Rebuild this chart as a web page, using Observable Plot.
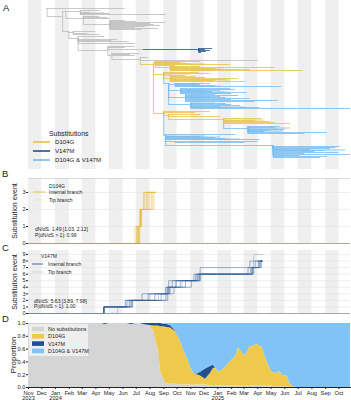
<!DOCTYPE html>
<html><head><meta charset="utf-8">
<script src="https://cdn.jsdelivr.net/npm/d3@7"></script>
<script src="https://cdn.jsdelivr.net/npm/@observablehq/plot@0.6"></script>
<style>
body{margin:0;background:#fff;}
#wrap{position:relative;width:351px;height:400px;overflow:hidden;background:#fff;}
#wrap > svg{display:block;}
</style></head><body><div id="wrap"></div>
<script>
// ---------------- DATA ----------------
const xDomain = ["2023-11-01", "2025-10-27"];
const monthTicks = ["2023-11-01","2023-12-01","2024-01-01","2024-02-01","2024-03-01","2024-04-01","2024-05-01","2024-06-01","2024-07-01","2024-08-01","2024-09-01","2024-10-01","2024-11-01","2024-12-01","2025-01-01","2025-02-01","2025-03-01","2025-04-01","2025-05-01","2025-06-01","2025-07-01","2025-08-01","2025-09-01","2025-10-01"];
const monthLabels = ["Nov\n2023","Dec","Jan\n2024","Feb","Mar","Apr","May","Jun","Jul","Aug","Sep","Oct","Nov","Dec","Jan\n2025","Feb","Mar","Apr","May","Jun","Jul","Aug","Sep","Oct"];
const stripeStart = ["2023-11-01","2024-01-01","2024-03-01","2024-05-01","2024-07-01","2024-09-01","2024-11-01","2025-01-01","2025-03-01","2025-05-01","2025-07-01","2025-09-01"];
const stripeEnd   = ["2023-12-01","2024-02-01","2024-04-01","2024-06-01","2024-08-01","2024-10-01","2024-12-01","2025-02-01","2025-04-01","2025-06-01","2025-08-01","2025-10-01"];

const substitutionLabels = ["D104G", "V147M", "D104G & V147M"];
const proportionLabels = ["No substitutions", "D104G", "V147M", "D104G & V147M"];
const branchLabels = ["Internal branch", "Tip branch"];
const statsD104G = ["dN/dS: 1.49 [1.03, 2.12]", "P(dN/dS > 1): 0.99"];
const statsV147M = ["dN/dS: 5.63 [3.89, 7.98]", "P(dN/dS > 1): 1.00"];

// Phylogeny: [id, parent, date, row, substitution state]
const treeNodes = [
["r","","2023-12-13",12,"none"],
["t1","r","2024-06-06",8,"none"],
["a","r","2024-01-17",16,"none"],
["U","a","2024-01-24",11,"none"],
["U1","U","2024-02-26",11,"none"],
["u1","U1","2024-04-10",10,"none"],
["u2","U1","2024-03-19",12,"none"],
["u3","U1","2024-09-07",14,"none"],
["u4","U1","2024-05-03",13,"none"],
["u14","U1","2024-04-21",12.5,"none"],
["U2","U","2024-03-04",18,"none"],
["u5","U2","2024-04-10",16,"none"],
["u6","U2","2024-05-03",18,"none"],
["u15","U2","2024-04-28",17,"none"],
["U3","U2","2024-05-03",24,"none"],
["u7","U3","2024-09-05",22,"none"],
["u8","U3","2024-08-02",23,"none"],
["u9","U3","2024-08-25",25,"none"],
["u10","U3","2024-06-29",27,"none"],
["u11","U3","2024-08-20",28,"none"],
["u12","U3","2024-06-06",20,"none"],
["u13","U3","2024-07-21",26,"none"],
["u16","U3","2024-07-01",21,"none"],
["u17","U3","2024-08-10",24,"none"],
["u18","U3","2024-07-14",29,"none"],
["L","a","2024-01-31",31,"none"],
["L1","L","2024-02-10",32,"none"],
["l1","L1","2024-04-01",31,"none"],
["l2","L1","2024-03-14",33,"none"],
["l3","L1","2024-04-10",34,"none"],
["L2","L","2024-02-21",38,"none"],
["l4","L2","2024-06-29",43,"none"],
["l5","L2","2024-04-21",36,"none"],
["l6","L2","2024-05-20",39,"none"],
["l7","L2","2024-06-15",41,"none"],
["l14","L2","2024-05-07",40,"none"],
["L3","L2","2024-04-28",50,"none"],
["M0","L3","2024-07-17",49,"none"],
["M1","M0","2024-11-19",49,"V147M"],
["m1","M1","2024-12-20",48,"V147M"],
["m2","M1","2024-12-04",49,"V147M"],
["m3","M1","2024-12-15",50,"V147M"],
["m4","M1","2024-12-06",51,"V147M"],
["m5","M1","2024-11-25",52,"V147M"],
["l8","L3","2024-06-29",46,"none"],
["l9","L3","2024-06-06",47,"none"],
["L4","L3","2024-05-07",55,"none"],
["l10","L4","2024-07-10",53,"none"],
["l11","L4","2024-06-29",55,"none"],
["l15","L4","2024-06-18",54,"none"],
["L5","L4","2024-07-10",59,"none"],
["l12","L5","2025-04-02",60,"none"],
["l13","L5","2024-07-28",57,"none"],
["Y0","L5","2024-08-09",64,"D104G"],
["Y1","Y0","2024-08-13",62,"D104G"],
["y1","Y1","2024-11-23",61,"D104G"],
["y2","Y1","2024-10-09",62,"D104G"],
["y3","Y1","2024-11-01",63,"D104G"],
["y4","Y1","2025-01-30",64,"D104G"],
["y5","Y1","2024-09-27",65,"D104G"],
["y27","Y1","2024-10-20",61.5,"D104G"],
["y28","Y1","2024-12-04",63.5,"D104G"],
["Y1a","Y1","2024-09-16",67,"D104G"],
["y6","Y1a","2025-05-10",67,"D104G"],
["y7","Y1a","2025-07-12",70,"D104G"],
["y8","Y1a","2024-12-27",68,"D104G"],
["y9","Y1a","2024-11-23",66,"D104G"],
["y10","Y1a","2025-03-14",69,"D104G"],
["y29","Y1a","2024-10-26",66.5,"D104G"],
["y30","Y1a","2025-01-14",68.5,"D104G"],
["y31","Y1a","2024-12-15",69.5,"D104G"],
["Y2","Y0","2024-09-01",74,"D104G"],
["y11","Y2","2024-11-19",72,"D104G"],
["y12","Y2","2024-12-15",73,"D104G"],
["y13","Y2","2024-10-20",75,"D104G"],
["y34","Y2","2024-11-01",73.5,"D104G"],
["Y2a","Y2","2024-09-16",78,"D104G"],
["y14","Y2a","2025-02-17",78,"D104G"],
["y15","Y2a","2025-03-03",81,"D104G"],
["y16","Y2a","2025-01-19",79,"D104G"],
["y17","Y2a","2024-11-12",76,"D104G"],
["y18","Y2a","2024-12-27",80,"D104G"],
["y32","Y2a","2024-12-04",77,"D104G"],
["y33","Y2a","2025-01-30",79.5,"D104G"],
["B1","Y2","2024-09-12",83,"both"],
["B1a","B1","2024-09-27",84,"both"],
["b1","B1a","2024-12-15",83,"both"],
["b2","B1a","2024-11-23",84,"both"],
["b3","B1a","2025-05-25",86,"both"],
["b4","B1a","2024-12-27",85,"both"],
["b42","B1a","2025-01-07",85.5,"both"],
["b43","B1a","2024-11-12",83.5,"both"],
["B1b","B1","2024-10-09",90,"both"],
["b5","B1b","2025-01-30",88,"both"],
["b6","B1b","2025-03-08",92,"both"],
["b7","B1b","2025-01-07",90,"both"],
["b8","B1b","2024-12-20",91,"both"],
["b9","B1b","2025-02-10",89,"both"],
["b44","B1b","2024-12-04",89.5,"both"],
["b45","B1b","2025-01-19",91.5,"both"],
["b46","B1b","2025-02-01",93,"both"],
["B1c","B1","2024-10-20",97,"both"],
["b10","B1c","2025-02-17",95,"both"],
["b11","B1c","2025-01-19",97,"both"],
["b12","B1c","2025-03-14",98,"both"],
["b13","B1c","2025-05-17",100,"both"],
["b14","B1c","2024-12-27",94,"both"],
["b47","B1c","2025-01-07",96,"both"],
["b48","B1c","2025-02-01",99,"both"],
["b49","B1c","2024-12-15",96.5,"both"],
["b50","B1c","2025-03-26",101,"both"],
["B1d","B1","2024-11-01",104,"both"],
["b15","B1d","2025-01-19",103,"both"],
["b16","B1d","2025-02-21",105,"both"],
["b17","B1d","2025-02-01",104,"both"],
["b18","B1d","2025-10-27",108,"both"],
["b19","B1d","2025-04-06",107,"both"],
["b51","B1d","2024-12-27",102.5,"both"],
["b52","B1d","2025-01-07",106,"both"],
["b53","B1d","2025-03-03",106.5,"both"],
["Y3","Y0","2024-09-01",113,"D104G"],
["y19","Y3","2024-12-15",111,"D104G"],
["y20","Y3","2024-11-12",112,"D104G"],
["Y3a","Y3","2024-09-12",115,"D104G"],
["y21","Y3a","2024-11-23",114,"D104G"],
["y22","Y3a","2025-01-07",116,"D104G"],
["Y4","Y3a","2025-01-14",119,"D104G"],
["y23","Y4","2025-04-11",118,"D104G"],
["y24","Y4","2025-06-13",123,"D104G"],
["y25","Y4","2025-04-29",121,"D104G"],
["y26","Y4","2025-03-26",120,"D104G"],
["y35","Y4","2025-05-10",122,"D104G"],
["y36","Y4","2025-04-17",119.5,"D104G"],
["B3","Y4","2025-03-10",128,"both"],
["b20","B3","2025-05-21",126,"both"],
["b21","B3","2025-05-10",127,"both"],
["b22","B3","2025-06-01",129,"both"],
["b23","B3","2025-04-29",130,"both"],
["b24","B3","2025-09-05",132,"both"],
["b25","B3","2025-04-17",131,"both"],
["b54","B3","2025-05-17",128.5,"both"],
["b55","B3","2025-06-13",127.5,"both"],
["b56","B3","2025-05-28",130.5,"both"],
["b57","B3","2025-07-16",133,"both"],
["B2","Y3","2024-09-05",135,"both"],
["b26","B2","2025-02-10",134,"both"],
["b27","B2","2024-11-23",136,"both"],
["b28","B2","2024-12-27",137,"both"],
["b29","B2","2025-04-06",139,"both"],
["b30","B2","2025-01-19",138,"both"],
["b58","B2","2024-12-04",135.5,"both"],
["b59","B2","2025-01-07",136.5,"both"],
["b60","B2","2025-02-21",138.5,"both"],
["B2b","B2","2024-09-27",141,"both"],
["b31","B2b","2025-04-02",141,"both"],
["b32","B2b","2025-03-03",142,"both"],
["B2a","B2","2025-05-06",145,"both"],
["b33","B2a","2025-10-04",146,"both"],
["b34","B2a","2025-09-12",148,"both"],
["b35","B2a","2025-07-28",149,"both"],
["b36","B2a","2025-08-31",150,"both"],
["b37","B2a","2025-10-01",152,"both"],
["b38","B2a","2025-07-16",153,"both"],
["b39","B2a","2025-10-27",154,"both"],
["b40","B2a","2025-07-05",155,"both"],
["b41","B2a","2025-08-20",157,"both"],
["b61","B2a","2025-09-24",147,"both"],
["b62","B2a","2025-08-08",151,"both"],
["b63","B2a","2025-09-05",156,"both"],
["b64","B2a","2025-10-16",149.5,"both"]
];

// Panel B: D104G substitution event sample paths (dates of each successive event)
const bInternalPaths = [
 ["2024-07-01","2024-07-09","2024-07-17"],
 ["2024-07-03","2024-07-10","2024-07-20"],
 ["2024-07-04","2024-07-10","2024-07-24"],
 ["2024-07-05","2024-07-11","2024-07-28"],
 ["2024-07-06","2024-07-11","2024-08-01"],
 ["2024-07-07","2024-07-12","2024-08-04"],
 ["2024-07-08","2024-07-12","2024-08-07"],
 ["2024-07-09","2024-07-13","2024-08-10"]
];
const bTipPaths = [
 ["2024-06-28","2024-07-10","2024-07-18"],
 ["2024-07-02","2024-07-11","2024-07-26"]
];
const bPathEnd = "2024-08-13";
const bTicks = [0, 1, 2, 3];
const bYMax = 3.82;

// Panel C: V147M substitution event sample paths
const cInternalPaths = [
 ["2024-04-19","2024-06-08","2024-07-14","2024-09-08","2024-09-12","2024-11-08","2024-11-22","2025-03-14"],
 ["2024-04-19","2024-06-12","2024-07-28","2024-09-10","2024-09-20","2024-11-12","2025-03-10","2025-03-26"],
 ["2024-04-19","2024-06-16","2024-08-12","2024-09-12","2024-09-28","2024-11-16","2025-03-16","2025-04-02"],
 ["2024-04-19","2024-06-20","2024-08-26","2024-09-05","2024-10-08","2024-11-19","2025-03-19","2025-04-05"],
 ["2024-04-19","2024-06-23","2024-09-06","2024-09-14","2024-10-20","2024-11-21","2025-03-21","2025-04-07"],
 ["2024-04-19","2024-06-06","2024-09-10","2024-09-24","2024-11-02","2024-11-23","2025-03-23","2025-04-09"]
];
const cTipPaths = [
 ["2024-04-19","2024-06-18","2024-08-01","2024-09-11","2024-09-30","2024-11-14","2025-03-20","2025-03-22","2025-03-23"],
 ["2024-05-20","2024-06-22","2024-08-20","2024-09-16","2024-10-12","2024-11-20","2025-03-18","2025-04-03"]
];
const cPathEnd = "2025-04-11";
const cTicks = [0,1,2,3,4,5,6,7,8,9];
const cYMax = 9.6;

// Panel D: proportions
const dDates = ["2023-11-01","2024-04-14","2024-04-22","2024-05-01","2024-06-10","2024-06-20","2024-07-01","2024-07-10","2024-07-20","2024-08-01","2024-08-09","2024-08-20","2024-08-25","2024-09-01","2024-09-06","2024-09-16","2024-09-27","2024-10-09","2024-10-16","2024-10-26","2024-11-01","2024-11-08","2024-11-15","2024-11-23","2024-12-04","2024-12-15","2024-12-22","2024-12-27","2025-01-03","2025-01-14","2025-01-30","2025-02-10","2025-02-17","2025-02-26","2025-03-03","2025-03-14","2025-03-30","2025-04-11","2025-04-22","2025-05-03","2025-05-10","2025-05-21","2025-05-28","2025-06-06","2025-06-13","2025-06-20","2025-06-27","2025-10-27"];
const dNone  = [1,1,0.985,1,1,0.985,1,1,0.98,0.96,0.89,0.57,0.25,0.12,0.06,0.05,0.05,0.04,0.04,0.04,0.04,0.04,0.04,0.04,0.04,0.03,0.03,0.03,0.03,0.03,0.02,0.02,0.02,0.02,0.02,0.02,0.03,0.03,0.02,0.02,0.01,0.01,0.01,0.01,0,0,0,0];
const dD104G = [0,0,0,0,0,0,0,0,0,0.01,0.07,0.39,0.70,0.83,0.88,0.88,0.83,0.68,0.54,0.38,0.26,0.18,0.16,0.14,0.09,0.19,0.27,0.27,0.21,0.26,0.39,0.47,0.60,0.51,0.47,0.61,0.64,0.60,0.38,0.22,0.21,0.24,0.17,0.17,0.05,0.01,0,0];
const dV147M = [0,0,0.015,0,0,0.015,0,0,0.02,0.03,0.04,0.04,0.05,0.04,0.05,0.04,0.01,0,0,0,0,0,0.01,0.06,0.16,0.11,0.05,0,0,0,0,0,0,0,0,0,0,0,0,0,0,0,0,0,0,0,0,0];
const dBoth  = [0,0,0,0,0,0,0,0,0,0,0,0,0,0.01,0.01,0.03,0.11,0.28,0.42,0.58,0.70,0.78,0.79,0.76,0.71,0.67,0.65,0.70,0.76,0.71,0.59,0.51,0.38,0.47,0.51,0.37,0.33,0.37,0.60,0.76,0.78,0.75,0.82,0.82,0.95,0.99,1,1];

// ---------------- STYLE ----------------
const FONT = '"Liberation Sans", Arial, Helvetica, sans-serif';
const treeColor = {none:"#bababa", D104G:"#e9c146", V147M:"#22508c", both:"#73bcf1"};
const areaColor = {"No substitutions":"#d5d5d5", "D104G":"#efc94c", "V147M":"#22508c", "D104G & V147M":"#80c4f7"};
const legendColor = ["#e9c146", "#22508c", "#73bcf1"];
const stripeFill = "#efefef";

const X = {type:"utc", domain: xDomain.map(d => new Date(d))};
const stripes = stripeStart.map((s,i) => ({s: new Date(s), e: new Date(stripeEnd[i])}));
const stripeMark = () => Plot.rect(stripes, {x1:"s", x2:"e", fill: stripeFill});
const common = {width:351, marginLeft:28, marginRight:1, color:{type:"identity"},
  style:{fontFamily:FONT, fontSize:"5.5px", color:"#222", background:"transparent", overflow:"visible"}};

const wrap = document.getElementById("wrap");

// ---------- Panel A: tree ----------
const byId = new Map(treeNodes.map(n => [n[0], n]));
const rank = {none:0, D104G:1, V147M:2, both:3};
const edges = treeNodes.filter(n => n[1]).map(n => {
  const p = byId.get(n[1]);
  return {px: new Date(p[2]), cx: new Date(n[2]), py: p[3], cy: n[3], cat: n[4]};
}).sort((a,b) => rank[a.cat] - rank[b.cat]);

wrap.append(Plot.plot({...common, height:170, marginTop:0, marginBottom:1,
  x:{...X, axis:null}, y:{domain:[169,0], axis:null},
  marks:[
    stripeMark(),
    Plot.ruleX(edges, {x:"px", y1:"py", y2:"cy", stroke: d => treeColor[d.cat], strokeWidth:0.8}),
    Plot.ruleY(edges, {x1:"px", x2:"cx", y:"cy", stroke: d => treeColor[d.cat], strokeWidth:0.8})
  ]}));

// ---------- step path helper ----------
function pathPoints(paths, endDate, tag) {
  return paths.flatMap((p,k) => [
    {x: new Date(xDomain[0]), y: 0, k: tag + k},
    ...p.map((t,i) => ({x: new Date(t), y: i + 1, k: tag + k})),
    {x: new Date(endDate), y: p.length, k: tag + k}
  ]);
}

// ---------- Panel B ----------
wrap.append(Plot.plot({...common, height:75, marginTop:8, marginBottom:2,
  x:{...X, axis:null},
  y:{domain:[0,bYMax], ticks:bTicks, tickFormat:d3.format("d"), tickSize:2, tickPadding:1, line:true, label:null},
  marks:[
    stripeMark(),
    Plot.ruleY(bTicks, {stroke:"#e3e3e3", strokeWidth:0.6}),
    Plot.ruleY([bYMax], {stroke:"#cfcfcf", strokeWidth:0.7}),
    Plot.line(pathPoints(bTipPaths, bPathEnd, "t"), {x:"x", y:"y", z:"k", curve:"step-after", stroke:"#efd78e", strokeWidth:0.8, strokeDasharray:"1,1"}),
    Plot.line(pathPoints(bInternalPaths, bPathEnd, "i"), {x:"x", y:"y", z:"k", curve:"step-after", stroke:"#e6bd40", strokeWidth:0.8, strokeOpacity:0.6}),
    Plot.ruleY([0], {stroke:"#9d968c", strokeWidth:0.8})
  ]}));

// ---------- Panel C ----------
wrap.append(Plot.plot({...common, height:71, marginTop:5, marginBottom:3,
  x:{...X, axis:null},
  y:{domain:[0,cYMax], ticks:cTicks, tickFormat:d3.format("d"), tickSize:2, tickPadding:1, line:true, label:null},
  marks:[
    stripeMark(),
    Plot.ruleY(cTicks, {stroke:"#e3e3e3", strokeWidth:0.6}),
    Plot.line(pathPoints(cTipPaths, cPathEnd, "t"), {x:"x", y:"y", z:"k", curve:"step-after", stroke:"#9fb8d6", strokeWidth:0.8, strokeDasharray:"1,1"}),
    Plot.line(pathPoints(cInternalPaths, cPathEnd, "i"), {x:"x", y:"y", z:"k", curve:"step-after", stroke:"#2a5a95", strokeWidth:0.8, strokeOpacity:0.55}),
    Plot.ruleY([0], {stroke:"#8f949b", strokeWidth:0.8})
  ]}));

// ---------- Panel D ----------
const seriesArrays = [dNone, dD104G, dV147M, dBoth];
const dLong = dDates.flatMap((d,i) => proportionLabels.map((c,j) => ({date: new Date(d), cat: c, v: seriesArrays[j][i]})));
wrap.append(Plot.plot({...common, height:84, marginTop:7, marginBottom:13,
  style:{...common.style, fontSize:"5.7px"},
  x:{...X, ticks: monthTicks.map(d => new Date(d)), tickFormat:(d,i) => monthLabels[i], tickSize:2, tickPadding:1, line:true, label:null},
  y:{domain:[0,1], ticks:[0,0.2,0.4,0.6,0.8,1], tickFormat:d3.format(".1f"), tickSize:2, tickPadding:1, line:true, label:null},
  marks:[
    Plot.areaY(dLong, {x:"date", y:"v", z:"cat", fill: d => areaColor[d.cat], order: proportionLabels, curve:"linear"})
  ]}));

// ---------- Overlay: panel letters, legends, axis titles, statistics ----------
const ov = d3.select(wrap).append("svg").attr("width",351).attr("height",400)
  .style("position","absolute").style("left","0px").style("top","0px")
  .attr("font-family", FONT).attr("fill","#222");
const txt = (t,x,y,s,extra) => { const e = ov.append("text").attr("x",x).attr("y",y).attr("font-size",s).text(t); if (extra) extra(e); return e; };

[["A",3,11],["B",2,177],["C",2,251],["D",2,322]].forEach(([t,x,y]) => txt(t,x,y,9.5));

// A legend
txt("Substitutions", 49, 135.5, 6.9);
substitutionLabels.forEach((l,i) => {
  ov.append("line").attr("x1",33).attr("x2",50).attr("y1",142+9*i).attr("y2",142+9*i).attr("stroke",legendColor[i]).attr("stroke-width",1.6);
  txt(l, 55, 144.3+9*i, 6.1);
});

// B legend + stats
txt("D104G", 49, 188, 5);
ov.append("line").attr("x1",33).attr("x2",45).attr("y1",192).attr("y2",192).attr("stroke","#e6bd40").attr("stroke-width",0.9);
txt(branchLabels[0], 49, 194, 5);
ov.append("line").attr("x1",33).attr("x2",45).attr("y1",200).attr("y2",200).attr("stroke","#efd78e").attr("stroke-width",0.9).attr("stroke-dasharray","1,1");
txt(branchLabels[1], 49, 202, 5);
statsD104G.forEach((s,i) => txt(s, 35, 231+6*i, 5));

// C legend + stats
txt("V147M", 41, 258, 5);
ov.append("line").attr("x1",32).attr("x2",43).attr("y1",264).attr("y2",264).attr("stroke","#2a5a95").attr("stroke-width",0.9);
txt(branchLabels[0], 48, 266, 5);
ov.append("line").attr("x1",32).attr("x2",43).attr("y1",272).attr("y2",272).attr("stroke","#9fb8d6").attr("stroke-width",0.9).attr("stroke-dasharray","1,1");
txt(branchLabels[1], 48, 274, 5);
statsV147M.forEach((s,i) => txt(s, 34, 302.5+5.5*i, 5));

// D legend
ov.append("rect").attr("x",29).attr("y",324).attr("width",59).attr("height",32).attr("fill","#fff").attr("fill-opacity",0.6);
proportionLabels.forEach((l,i) => {
  const cy = 329 + 7.3*i;
  ov.append("rect").attr("x",32).attr("y",cy-2.3).attr("width",12).attr("height",4.6).attr("fill",areaColor[l]);
  txt(l, 48, cy+2, 5.4);
});

// axis titles
[["Substitution event",16.5,211,7],["Substitution event",16.5,282,7],["Proportion",16,355,8]].forEach(([t,x,y,s]) =>
  txt(t,0,0,s,e => e.attr("text-anchor","middle").attr("transform",`translate(${x},${y}) rotate(-90)`)));
</script></body></html>
